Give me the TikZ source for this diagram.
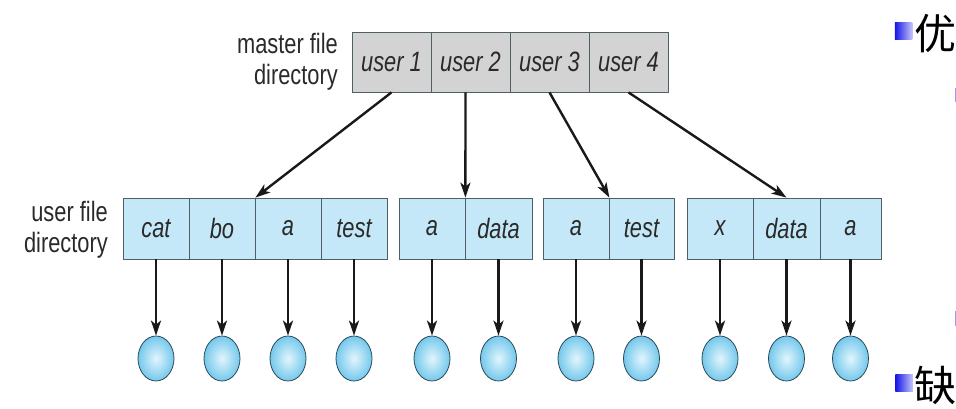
\documentclass[tikz,border=0pt]{standalone}
\usepackage{fontspec}
\setmainfont[FakeStretch=0.78]{Liberation Sans}
\newfontfamily\cjk{Noto Sans CJK SC}
\usetikzlibrary{shapes.geometric,arrows.meta}
\definecolor{txt}{HTML}{2A2A2A}
\definecolor{bord}{HTML}{4F5F66}
\definecolor{mgray}{HTML}{D3D3D3}
\definecolor{ublue}{HTML}{C4E8F8}
\definecolor{fout}{HTML}{74C8EC}
\definecolor{fin}{HTML}{E2F5FD}
\definecolor{fbord}{HTML}{2B4858}
\definecolor{bulletblue}{HTML}{1515E8}
\begin{document}
\begin{tikzpicture}[x=1pt,y=-1pt,
  lbl/.style={font=\fontsize{28}{31}\selectfont, text=txt, align=right, inner sep=0pt},
  mcell/.style={draw=bord, fill=mgray, line width=0.8pt, minimum width=79pt, minimum height=60pt, inner sep=0pt, font=\fontsize{28}{30}\selectfont\itshape, text=txt},
  ucell/.style={draw=bord, fill=ublue, line width=0.8pt, minimum height=61pt, inner sep=0pt, font=\fontsize{28}{30}\selectfont\itshape, text=txt},
  filenode/.style={ellipse, draw=fbord, line width=0.8pt, inner color=fin, outer color=fout, minimum width=36pt, minimum height=45pt, inner sep=0pt},
  arr/.style={line width=2.4pt, draw=black!90, -{Stealth[length=15pt,width=10pt,inset=4pt]}},
  bsq/.style={minimum size=17.5pt, inner sep=0pt, left color=bulletblue, right color=bulletblue!25!white},
  cjkch/.style={font=\cjk\fontsize{42}{42}\selectfont, text=black, inner sep=0pt}
]
\useasboundingbox (0,0) rectangle (956,409);
% master file directory
\node[lbl, anchor=east] (mlabel) at (338,62) {master file\\directory};
\node[mcell] (u1) at (391.5,62) {user 1};
\node[mcell] (u2) at (470.5,62) {user 2};
\node[mcell] (u3) at (549.5,62) {user 3};
\node[mcell] (u4) at (628.5,62) {user 4};
% user file directory
\node[lbl, anchor=east] (ulabel) at (108,230) {user file\\directory};
\node[ucell, minimum width=66pt] (g1a) at (156,228.5) {cat};
\node[ucell, minimum width=66pt] (g1b) at (222,228.5) {bo};
\node[ucell, minimum width=66pt] (g1c) at (288,228.5) {a};
\node[ucell, minimum width=66pt] (g1d) at (354,228.5) {test};
\node[ucell, minimum width=66pt] (g2a) at (432,228.5) {a};
\node[ucell, minimum width=67pt] (g2b) at (498.5,228.5) {data};
\node[ucell, minimum width=66pt] (g3a) at (576,228.5) {a};
\node[ucell, minimum width=65pt] (g3b) at (641.5,228.5) {test};
\node[ucell, minimum width=66pt] (g4a) at (720,228.5) {x};
\node[ucell, minimum width=67pt] (g4b) at (786.5,228.5) {data};
\node[ucell, minimum width=61pt] (g4c) at (850.5,228.5) {a};
% files
\foreach \n in {g1a,g1b,g1c,g1d,g2a,g2b,g3a,g3b,g4a,g4b,g4c}{
  \path (\n.center) ++(0,130) node[filenode] (f\n) {};
  \draw[arr] (\n.south) -- (f\n.north);
}
% master to user directories
\draw[arr] (u1.south) -- (g1b.north east);
\draw[arr] ([xshift=-5pt]u2.south) -- (g2a.north east);
\draw[arr] (u3.south) -- (g3a.north east);
\draw[arr] (u4.south) -- (g4b.north);
% slide bullets
\node[bsq] (b1) at (903.5,31) {};
\node[cjkch, anchor=west] (t1) at (914,34) {优};
\node[bsq] (b2) at (904,383) {};
\node[cjkch, anchor=west] (t2) at (914,385) {缺};
\draw[draw=blue!40, line width=1.2pt] (955.5,88) -- (955.5,102);
\draw[draw=blue!40, line width=1.2pt] (955.5,311) -- (955.5,326);
\end{tikzpicture}
\end{document}
